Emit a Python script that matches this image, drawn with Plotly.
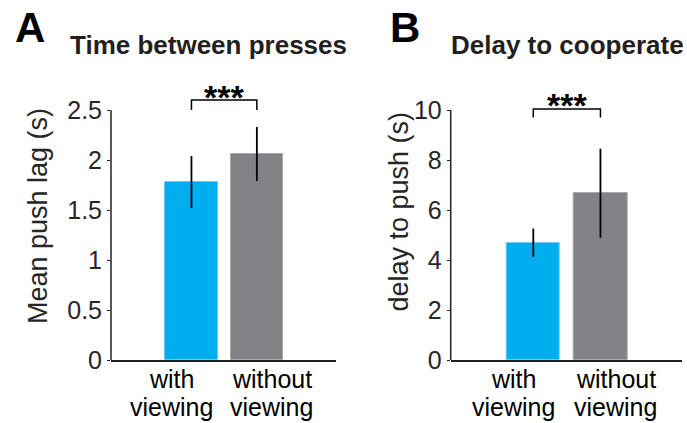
import plotly.graph_objects as go

# ---- data ----
categories = ["with viewing", "without viewing"]
lag_means = [1.78, 2.06]
lag_err = [0.26, 0.27]
delay_means = [4.69, 6.67]
delay_err = [0.57, 1.78]
lag_ticks = [0, 0.5, 1, 1.5, 2, 2.5]
lag_ticktext = ["0", "0.5", "1", "1.5", "2", "2.5"]
delay_ticks = [0, 2, 4, 6, 8, 10]
delay_ticktext = ["0", "2", "4", "6", "8", "10"]
label_lines = [["with", "viewing"], ["without", "viewing"]]
sig_text = "***"

W, H = 687, 423
FONT = "Liberation Sans, Arial, Helvetica, sans-serif"
BLUE, GRAY = "#00AEEF", "#808285"
BLUE_EDGE, GRAY_EDGE = "#6CCBF3", "#A7A9AC"
AX = "#231F20"
TXT = "#262626"

xpos = [0, 1]
label_x = [-0.3, 1.23]

fig = go.Figure()
panels = [
    dict(means=lag_means, err=lag_err, xa="x", ya="y", xd=[111, 336],
         yrange=[0, 2.8], ytop=2.5, tv=lag_ticks, tt=lag_ticktext,
         brk=(2.5, 2.6), star_y=2.63, ytitle="Mean push lag (s)", ytitle_x=38, ytitle_y=216,
         title="Time between presses", title_x=68, letter="A", letter_x=13),
    dict(means=delay_means, err=delay_err, xa="x2", ya="y2", xd=[450.7, 681.7],
         yrange=[0, 11.2], ytop=10, tv=delay_ticks, tt=delay_ticktext,
         brk=(9.7, 10.04), star_y=10.2, ytitle="delay to push (s)", ytitle_x=398, ytitle_y=211.5,
         title="Delay to cooperate", title_x=449, letter="B", letter_x=388),
]

ydom = [(H - 360) / H, (H - 80) / H]
annotations = []
shapes = []
for i, p in enumerate(panels):
    fig.add_trace(go.Bar(
        x=xpos, y=p["means"], width=0.8,
        marker=dict(color=[BLUE, GRAY], line=dict(color=[BLUE_EDGE, GRAY_EDGE], width=1)),
        error_y=dict(type="data", array=p["err"], color="#000000", thickness=1.8, width=0),
        xaxis=p["xa"], yaxis=p["ya"], showlegend=False, hoverinfo="skip",
    ))
    sfx = "" if i == 0 else "2"
    fig.update_layout(**{
        f"xaxis{sfx}": dict(domain=[p["xd"][0] / W, p["xd"][1] / W], range=[-1.23, 2.21],
                            showline=True, linecolor=AX, linewidth=1.5, ticks="",
                            showticklabels=False, showgrid=False, zeroline=False,
                            automargin=False, anchor=p["ya"]),
        f"yaxis{sfx}": dict(domain=ydom, range=p["yrange"], showline=False,
                            tickvals=p["tv"], ticktext=p["tt"], ticks="outside", ticklen=3,
                            tickcolor=AX, tickwidth=1,
                            tickfont=dict(family=FONT, size=25, color=TXT),
                            showgrid=False, zeroline=False, automargin=False, anchor=p["xa"]),
    })
    # y axis line only up to the top tick
    shapes.append(dict(type="line", xref=f"{p['xa']} domain", yref=p["ya"],
                       x0=0, x1=0, y0=0, y1=p["ytop"], line=dict(color=AX, width=1.5)))
    # significance bracket
    b0, b1 = p["brk"]
    shapes.append(dict(type="path", xref=p["xa"], yref=p["ya"],
                       path=f"M {xpos[0]},{b0} L {xpos[0]},{b1} L {xpos[1]},{b1} L {xpos[1]},{b0}",
                       line=dict(color="#000000", width=1.5)))
    annotations.append(dict(text=f"<b>{sig_text}</b>", xref=p["xa"], yref=p["ya"],
                            x=(xpos[0] + xpos[1]) / 2, y=p["star_y"], showarrow=False,
                            xanchor="center", yanchor="middle",
                            font=dict(family=FONT, size=34, color="#000000")))
    # category labels (two lines each)
    for k, lines in enumerate(label_lines):
        for j, line in enumerate(lines):
            annotations.append(dict(text=line, xref=p["xa"], yref="paper",
                                    x=label_x[k], y=(H - (379 + 28 * j)) / H,
                                    showarrow=False, xanchor="center", yanchor="middle",
                                    font=dict(family=FONT, size=25, color="#000000")))
    # y axis title
    annotations.append(dict(text=p["ytitle"], xref="paper", yref="paper",
                            x=p["ytitle_x"] / W, y=(H - p["ytitle_y"]) / H, textangle=-90,
                            showarrow=False, xanchor="center", yanchor="middle",
                            font=dict(family=FONT, size=27, color=TXT)))
    # panel title
    annotations.append(dict(text=f"<b>{p['title']}</b>", xref="paper", yref="paper",
                            x=p["title_x"] / W, y=(H - 45) / H, showarrow=False,
                            xanchor="left", yanchor="middle",
                            font=dict(family=FONT, size=26, color=AX)))
    # panel letter
    annotations.append(dict(text=f"<b>{p['letter']}</b>", xref="paper", yref="paper",
                            x=p["letter_x"] / W, y=(H - 28) / H, showarrow=False,
                            xanchor="left", yanchor="middle",
                            font=dict(family=FONT, size=42, color="#000000")))

fig.update_layout(width=W, height=H, autosize=False,
                  margin=dict(l=0, r=0, t=0, b=0, pad=0, autoexpand=False),
                  paper_bgcolor="white", plot_bgcolor="white",
                  annotations=annotations, shapes=shapes, bargap=0)
fig.write_html("out.html", config={"responsive": False})
